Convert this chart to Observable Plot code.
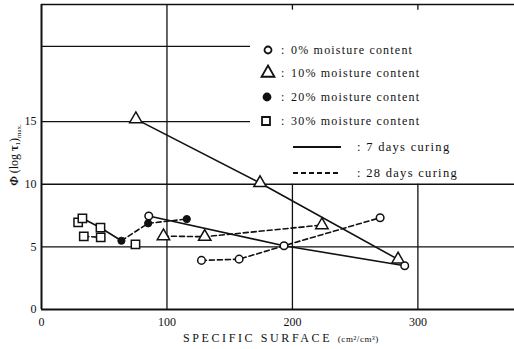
<!DOCTYPE html>
<html><head><meta charset="utf-8">
<script src="https://cdn.jsdelivr.net/npm/d3@7"></script>
<script src="https://cdn.jsdelivr.net/npm/@observablehq/plot@0.6"></script>
<style>
body{margin:0;background:#fff;}
#wrap{position:relative;width:514px;height:349px;}
svg{display:block;}
</style></head><body><div id="wrap"></div>
<script>
// Specific surface (cm2/cm3) and phi values per moisture content
const ss0 = [85.5, 127.5, 157.5, 193.3, 269.9, 289.5];
const phi0 = [7.46, 3.92, 4.02, 5.09, 7.33, 3.49];
const ss10 = [75.2, 97.2, 130.1, 174.2, 223.5, 284.2];
const phi10 = [15.2, 5.86, 5.81, 10.1, 6.74, 4.0];
const ss20 = [63.7, 85.0, 115.8];
const phi20 = [5.49, 6.88, 7.22];
const ss30 = [29.2, 32.6, 33.7, 47.0, 47.2, 74.9];
const phi30 = [6.96, 7.28, 5.84, 6.53, 5.76, 5.20];

// 7 days curing lines (solid)
const c7_0x = [85.5, 193.3, 289.5], c7_0y = [7.46, 5.09, 3.49];
const c7_10x = [75.2, 174.2, 284.2], c7_10y = [15.2, 10.1, 4.0];
const c7_30x = [32.6, 47.0, 63.7], c7_30y = [7.28, 6.53, 5.49];
// 28 days curing lines (dashed)
const c28_0x = [127.5, 157.5, 193.3, 269.9], c28_0y = [3.92, 4.02, 5.09, 7.33];
const c28_10x = [97.2, 130.1, 223.5], c28_10y = [5.86, 5.81, 6.74];
const c28_20x = [63.7, 85.0, 115.8], c28_20y = [5.49, 6.88, 7.22];
const c28_30x = [33.7, 47.2], c28_30y = [5.84, 5.76];

const xTicks = [0, 100, 200, 300];
const yTicks = [0, 5, 10, 15];
const legendLabels = ["0% moisture content", "10% moisture content", "20% moisture content", "30% moisture content"];
const curingLabels = ["7 days curing", "28 days curing"];

const X_MAX = 377, Y_MAX = 24.35;
const pts = (xs, ys) => xs.map((x, i) => ({x, y: ys[i]}));
const font = "'Liberation Serif', 'DejaVu Serif', serif";

const solid = {x: "x", y: "y", stroke: "#111", strokeWidth: 1.6};
const dashed = {x: "x", y: "y", stroke: "#111", strokeWidth: 1.6, strokeDasharray: "5,3"};

const svg = Plot.plot({
  width: 514, height: 349,
  marginLeft: 41, marginRight: 0, marginTop: 4, marginBottom: 40,
  x: {domain: [0, X_MAX]},
  y: {domain: [0, Y_MAX]},
  style: {fontFamily: font, fontSize: "12px", color: "#111", background: "white"},
  marks: [
    // grid
    Plot.ruleY([5, 10], {x1: 0, x2: X_MAX, stroke: "#111", strokeWidth: 1.3}),
    Plot.ruleY([15, 21], {x1: 0, x2: 166.6, stroke: "#111", strokeWidth: 1.3}),
    Plot.ruleX([100], {y1: 0, y2: Y_MAX, stroke: "#111", strokeWidth: 1.3}),
    Plot.ruleX([200, 300], {y1: 0, y2: 10, stroke: "#111", strokeWidth: 1.3}),
    Plot.ruleX([200, 300], {y1: Y_MAX, y2: Y_MAX - 0.45, stroke: "#111", strokeWidth: 1.3}),
    // frame
    Plot.ruleY([Y_MAX], {x1: 0, x2: X_MAX, stroke: "#111", strokeWidth: 1.6}),
    Plot.ruleY([0], {x1: 0, x2: X_MAX, stroke: "#111", strokeWidth: 2}),
    Plot.ruleX([0], {y1: 0, y2: Y_MAX, stroke: "#111", strokeWidth: 2}),
    // curves
    Plot.line(pts(c7_0x, c7_0y), solid),
    Plot.line(pts(c7_10x, c7_10y), solid),
    Plot.line(pts(c7_30x, c7_30y), solid),
    Plot.line(pts(c28_0x, c28_0y), dashed),
    Plot.line(pts(c28_10x, c28_10y), dashed),
    Plot.line(pts(c28_20x, c28_20y), dashed),
    Plot.line(pts(c28_30x, c28_30y), dashed),
    // markers
    Plot.dot(pts(ss30, phi30), {x: "x", y: "y", symbol: "square", r: 4.7, fill: "white", stroke: "#111", strokeWidth: 1.5}),
    Plot.dot(pts(ss10, phi10), {x: "x", y: "y", symbol: "triangle", r: 4.6, fill: "white", stroke: "#111", strokeWidth: 1.5}),
    Plot.dot(pts(ss20, phi20), {x: "x", y: "y", r: 3.6, fill: "#111", stroke: "#111", strokeWidth: 1}),
    Plot.dot(pts(ss0, phi0), {x: "x", y: "y", r: 3.8, fill: "white", stroke: "#111", strokeWidth: 1.5}),
    // axes
    Plot.axisX(xTicks, {tickSize: 0, tickPadding: 8, label: null, fontSize: 12}),
    Plot.axisY(yTicks, {tickSize: 0, tickPadding: 5, label: null, fontSize: 12})
  ]
});

const s = d3.select(svg);
// Legend
const lg = s.append("g").attr("fill", "#111").attr("text-anchor", "start").style("font-family", font);
const symTypes = [d3.symbolCircle, d3.symbolTriangle, d3.symbolCircle, d3.symbolSquare];
const symSizes = [Math.PI * 3.5 * 3.5, Math.PI * 4.8 * 4.8, Math.PI * 3.5 * 3.5, Math.PI * 4.5 * 4.5];
const symFill = ["white", "white", "#111", "white"];
const rowY = [50, 73, 97, 121];
const symX = [268, 268, 267, 266];
legendLabels.forEach((t, i) => {
  lg.append("path").attr("d", d3.symbol(symTypes[i], symSizes[i])())
    .attr("transform", `translate(${symX[i]},${rowY[i]})`)
    .attr("fill", symFill[i]).attr("stroke", "#111").attr("stroke-width", 1.8);
  lg.append("text").attr("x", 281).attr("y", rowY[i] + 4).attr("font-size", 12).text(":");
  lg.append("text").attr("x", 291).attr("y", rowY[i] + 4).attr("font-size", 12)
    .attr("letter-spacing", 1.2).text(t);
});
const curY = [147, 173];
curingLabels.forEach((t, i) => {
  lg.append("line").attr("x1", 293).attr("x2", 341).attr("y1", curY[i]).attr("y2", curY[i])
    .attr("stroke", "#111").attr("stroke-width", 1.8)
    .attr("stroke-dasharray", i === 1 ? "5,3" : null);
  lg.append("text").attr("x", 357).attr("y", curY[i] + 4).attr("font-size", 12.5)
    .attr("letter-spacing", 1.3).text(": " + t);
});

// X axis title
const xt = s.append("text").attr("x", 281).attr("y", 342).attr("text-anchor", "middle")
  .attr("fill", "#111").style("font-family", font);
xt.append("tspan").attr("font-size", 12).attr("letter-spacing", 2.6).text("SPECIFIC SURFACE ");
xt.append("tspan").attr("font-size", 9).attr("letter-spacing", 0.6).text("(cm²/cm³)");

// Y axis title
const yt = s.append("text").attr("transform", "translate(18,155) rotate(-90)")
  .attr("text-anchor", "middle").attr("fill", "#111").style("font-family", font).attr("font-size", 12);
yt.append("tspan").attr("font-weight", "bold").attr("font-style", "italic").text("Φ");
yt.append("tspan").text(" (log ");
yt.append("tspan").attr("font-weight", "bold").text("τ");
yt.append("tspan").attr("font-size", 7).attr("dy", 2).text("1");
yt.append("tspan").attr("dy", -2).text(")");
yt.append("tspan").attr("font-size", 7).attr("dy", 3).text("max.");

document.getElementById("wrap").appendChild(svg);
</script>
</body></html>
